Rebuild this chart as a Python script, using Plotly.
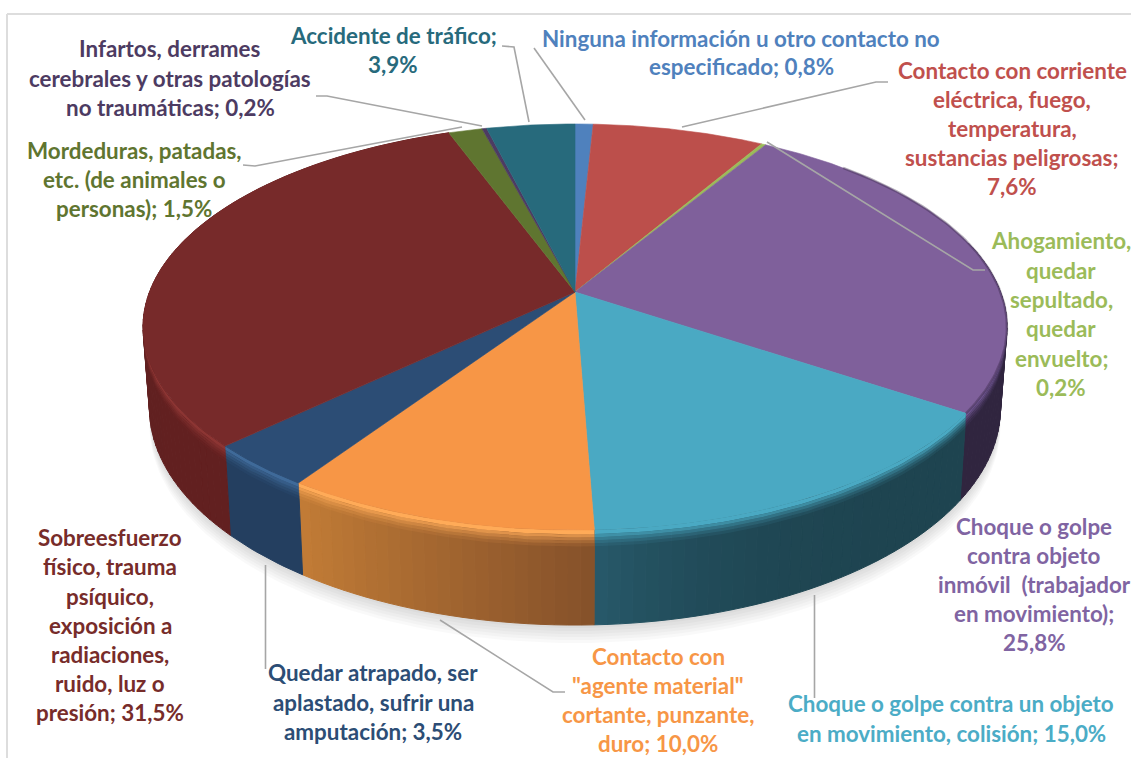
import numpy as np
import plotly.graph_objects as go

# ---- data ----
values = [0.8, 7.6, 0.2, 25.8, 15.0, 10.0, 3.5, 31.5, 1.5, 0.2, 3.9]
label_lines = [
    ["Ninguna información u otro contacto no", "especificado; {}"],
    ["Contacto con corriente", "eléctrica, fuego,", "temperatura,", "sustancias peligrosas;", "{}"],
    ["Ahogamiento,", "quedar", "sepultado,", "quedar", "envuelto;", "{}"],
    ["Choque o golpe", "contra objeto", "inmóvil\u00a0 (trabajador", "en movimiento);", "{}"],
    ["Choque o golpe contra un objeto", "en movimiento, colisión; {}"],
    ["Contacto con", "\"agente material\"", "cortante, punzante,", "duro; {}"],
    ["Quedar atrapado, ser", "aplastado, sufrir una", "amputación; {}"],
    ["Sobreesfuerzo", "físico, trauma", "psíquico,", "exposición a", "radiaciones,", "ruido, luz o", "presión; {}"],
    ["Mordeduras, patadas,", "etc. (de animales o", "personas); {}"],
    ["Infartos, derrames", "cerebrales y otras patologías", "no traumáticas; {}"],
    ["Accidente de tráfico;", "{}"],
]

# ---- styles ----
top_colors = ["#4f81bd", "#bc4f4b", "#9bbb59", "#7f609b", "#4aa9c3", "#f79646",
              "#2c4d75", "#772a2a", "#5f7530", "#4d3b62", "#276a7c"]
text_colors = ["#4f81bd", "#c0504d", "#9bbb59", "#8064a2", "#4bacc6", "#f79646",
               "#2c4d75", "#772c2a", "#5f7530", "#4d3b62", "#276a7c"]
# wall colour at the start and at the end of each visible slice, with gradient exponent
wall_colors = {3: ("#2f2440", "#30253f", 1), 4: ("#1e4450", "#27596a", 4), 5: ("#85512a", "#c27c36", 1),
               6: ("#243f60", "#243f60", 1), 7: ("#622020", "#5f2020", 1)}
highlight = {3: "#6f5590", 4: "#4aa9c3", 5: "#ffab58", 6: "#3f6a99", 7: "#8c3533"}
label_x = [741, 1012, 1061, 1034, 951, 658, 373, 110, 134, 170, 393]
label_y = [[38, 66], [70, 99, 128, 157, 186], [240, 270, 299, 328, 358, 387],
           [526, 555, 584, 613, 642], [703, 733], [656, 685, 714, 743],
           [672, 702, 731], [537, 566, 596, 625, 654, 683, 712],
           [150, 179, 208], [48, 78, 107], [35, 64]]
leaders = [
    [(534, 48), (585, 120)],
    [(888, 82), (876, 82), (682, 127)],
    [(985, 270), (973, 270), (767, 142)],
    [(814.5, 595), (814.5, 698)],
    [(565, 692), (553, 692), (440, 620)],
    [(265.5, 565), (265.5, 669)],
    [(243, 165), (255, 166), (462, 127)],
    [(316, 96), (327, 96), (482, 126)],
    [(502, 46), (514, 47), (529, 122)],
]
W, H = 1131, 758
cx, cy, Rx, Ry, p, D = 575.0, 292.0, 425.5, 197.0, 0.1725, 78.6


def rim(theta, d=0.0):
    """Project pie-rim angle (radians, clockwise from top) to page pixels."""
    X, Y = np.sin(theta), np.cos(theta)
    s = 1 / (1 + p * Y)
    return cx + Rx * X * s * (1 - 0.015 * d / D), cy - Ry * Y * s + d * s


def hex2rgb(c):
    return np.array([int(c[i:i + 2], 16) for i in (1, 3, 5)], float)


def mix(a, b, t):
    v = hex2rgb(a) * (1 - t) + hex2rgb(b) * t
    return "rgb(%d,%d,%d)" % tuple(v.round())


def rgba(c, a):
    return "rgba(%d,%d,%d,%.3f)" % (*hex2rgb(c), a)


def poly(x, y, fill, lw=0.0, lc=None):
    return go.Scatter(x=list(x), y=list(y), mode="lines", fill="toself", fillcolor=fill,
                      line=dict(width=lw, color=lc or fill), hoverinfo="skip", showlegend=False)


def band(a0, a1, d0, d1):
    th = np.linspace(a0, a1, max(3, int((a1 - a0) / np.radians(1)) + 2))
    x0, y0 = rim(th, d0)
    x1, y1 = rim(th[::-1], d1)
    return np.r_[x0, x1, x0[0]], np.r_[y0, y1, y0[0]]


edges = np.radians(np.r_[0, np.cumsum(values)] / sum(values) * 360)
fig = go.Figure()

# soft ground shadow
th_all = np.linspace(np.radians(55), np.radians(305), 200)
for off in (3, 6, 9, 12, 15, 18):
    x, y = rim(th_all, D)
    fig.add_trace(poly(x, y + off, "rgba(0,0,0,0.025)"))

# side walls: gradient strips, then the bevel that blends them with the top
for i, (c0, c1, ex) in wall_colors.items():
    a0, a1 = edges[i], edges[i + 1]
    if i == 3:
        a0 = np.radians(75)
    n = 1 if c0 == c1 else max(1, int(np.ceil((a1 - a0) / np.radians(1.5))))
    steps = np.linspace(a0, a1, n + 1)
    for k in range(n):
        x, y = band(steps[k], steps[k + 1], 0, D)
        col = mix(c0, c1, ((k + 0.5) / n) ** ex)
        fig.add_trace(poly(x, y, col, 1.0, col))
for i in wall_colors:
    a0, a1 = edges[i], edges[i + 1]
    if i == 3:
        a0 = np.radians(75)
    x, y = band(a0, a1, 0, 3.5)
    fig.add_trace(poly(x, y, highlight[i]))
    for d, alpha in zip((3.5, 6, 8.5, 11), (0.7, 0.45, 0.25, 0.1)):
        x, y = band(a0, a1, d, d + 2.5)
        fig.add_trace(poly(x, y, rgba(highlight[i], alpha)))

# top face
for i, col in enumerate(top_colors):
    th = np.linspace(edges[i], edges[i + 1], max(2, int(values[i] * 8)))
    x, y = rim(th)
    fig.add_trace(poly(np.r_[cx, x, cx], np.r_[cy, y, cy], col, 0.6, col))

# shaded edge on the far right of the top face
th = np.linspace(np.radians(45), edges[4], 80)
x, y = rim(th)
fig.add_trace(go.Scatter(x=x, y=y, mode="lines", line=dict(width=2.5, color="rgba(45,32,60,0.35)"),
                         hoverinfo="skip", showlegend=False))

# leader lines
for pts in leaders:
    fig.add_trace(go.Scatter(x=[q[0] for q in pts], y=[q[1] for q in pts], mode="lines",
                             line=dict(width=1.6, color="#a6a6a6"), hoverinfo="skip", showlegend=False))

# labels, one annotation per line for the original line spacing
annotations = []
for i, lines in enumerate(label_lines):
    pct = f"{values[i]:.1f}%".replace(".", ",")
    for line, yy in zip(lines, label_y[i]):
        annotations.append(dict(x=label_x[i], y=yy, xref="x", yref="y",
                                text="<b>" + line.format(pct) + "</b>",
                                showarrow=False, xanchor="center", yanchor="middle",
                                font=dict(family="Lato", size=22.4, color=text_colors[i])))

fig.update_layout(
    width=W, height=H, margin=dict(l=0, r=0, t=0, b=0),
    paper_bgcolor="white", plot_bgcolor="white", showlegend=False,
    xaxis=dict(range=[0, W], visible=False, fixedrange=True),
    yaxis=dict(range=[H, 0], visible=False, fixedrange=True),
    annotations=annotations,
    shapes=[
        dict(type="line", x0=7, x1=7, y0=14, y1=H, line=dict(color="#dddddd", width=2)),
        dict(type="line", x0=7, x1=W, y0=14, y1=14, line=dict(color="#dddddd", width=2)),
    ],
)
fig.write_html("out.html", config=dict(displayModeBar=False),
               post_script="document.body.style.margin='0';document.body.style.overflow='hidden';")
